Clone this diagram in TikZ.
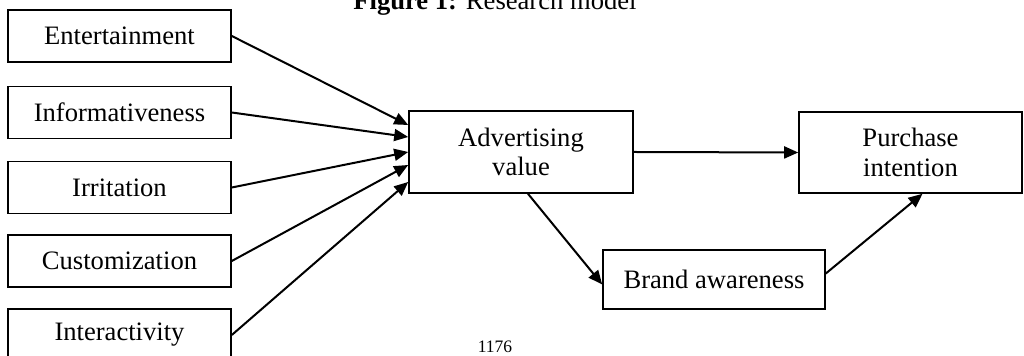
\documentclass[tikz,border=0pt]{standalone}
\usepackage{fontspec}
\setmainfont{Liberation Serif}
\usetikzlibrary{calc,arrows.meta}
\begin{document}
\begin{tikzpicture}[x=0.5pt,y=-0.5pt,
  box/.style={draw,line width=0.8pt,rectangle,inner sep=0pt,align=center,
    font=\fontsize{13.3pt}{14.6pt}\selectfont},
  leftbox/.style={box,minimum width=111.5pt,minimum height=26pt},
  link/.style={line width=1pt,-{Triangle[length=7pt,width=6pt]}}]
\clip (0,0) rectangle (1024,356);
\useasboundingbox (0,0) rectangle (1024,356);

% heading and page number
\node[anchor=base,font=\fontsize{13.3pt}{14.6pt}\selectfont] (title) at (495,10)
  {\textbf{Figure 1:} Research model};
\node[anchor=base,font=\fontsize{8.75pt}{10pt}\selectfont] (page) at (495,353) {1176};

% antecedents
\node[leftbox] (ent) at (119.5,36) {Entertainment};
\node[leftbox] (inf) at (119.5,112.5) {Informativeness};
\node[leftbox] (irr) at (119.5,187.5) {Irritation};
\node[leftbox] (cus) at (119.5,261) {Customization};
\node[leftbox] (int) at (119.5,335) {Interactivity};

% constructs
\node[box,minimum width=112pt,minimum height=41pt] (adv) at (521,152) {Advertising\\value};
\node[box,minimum width=111.5pt,minimum height=40.5pt] (pur) at (910.5,152.5) {Purchase\\intention};
\node[box,minimum width=111pt,minimum height=29.5pt] (bra) at (714,279.5) {Brand awareness};

% paths
\draw[link] (ent.east) -- ($(adv.west)+(0,-27)$);
\draw[link] (inf.east) -- ($(adv.west)+(0,-15)$);
\draw[link] (irr.east) -- ($(adv.west)+(0,0)$);
\draw[link] (cus.east) -- ($(adv.west)+(0,13)$);
\draw[link] (int.east) -- ($(adv.west)+(0,30)$);
\draw[link] (adv.east) -- (pur.west);
\draw[link] ($(adv.south)+(7,0)$) -- ($(bra.west)+(0,5)$);
\draw[link] ($(bra.east)+(0,-6)$) -- ($(pur.south)+(12,0)$);
\end{tikzpicture}
\end{document}
